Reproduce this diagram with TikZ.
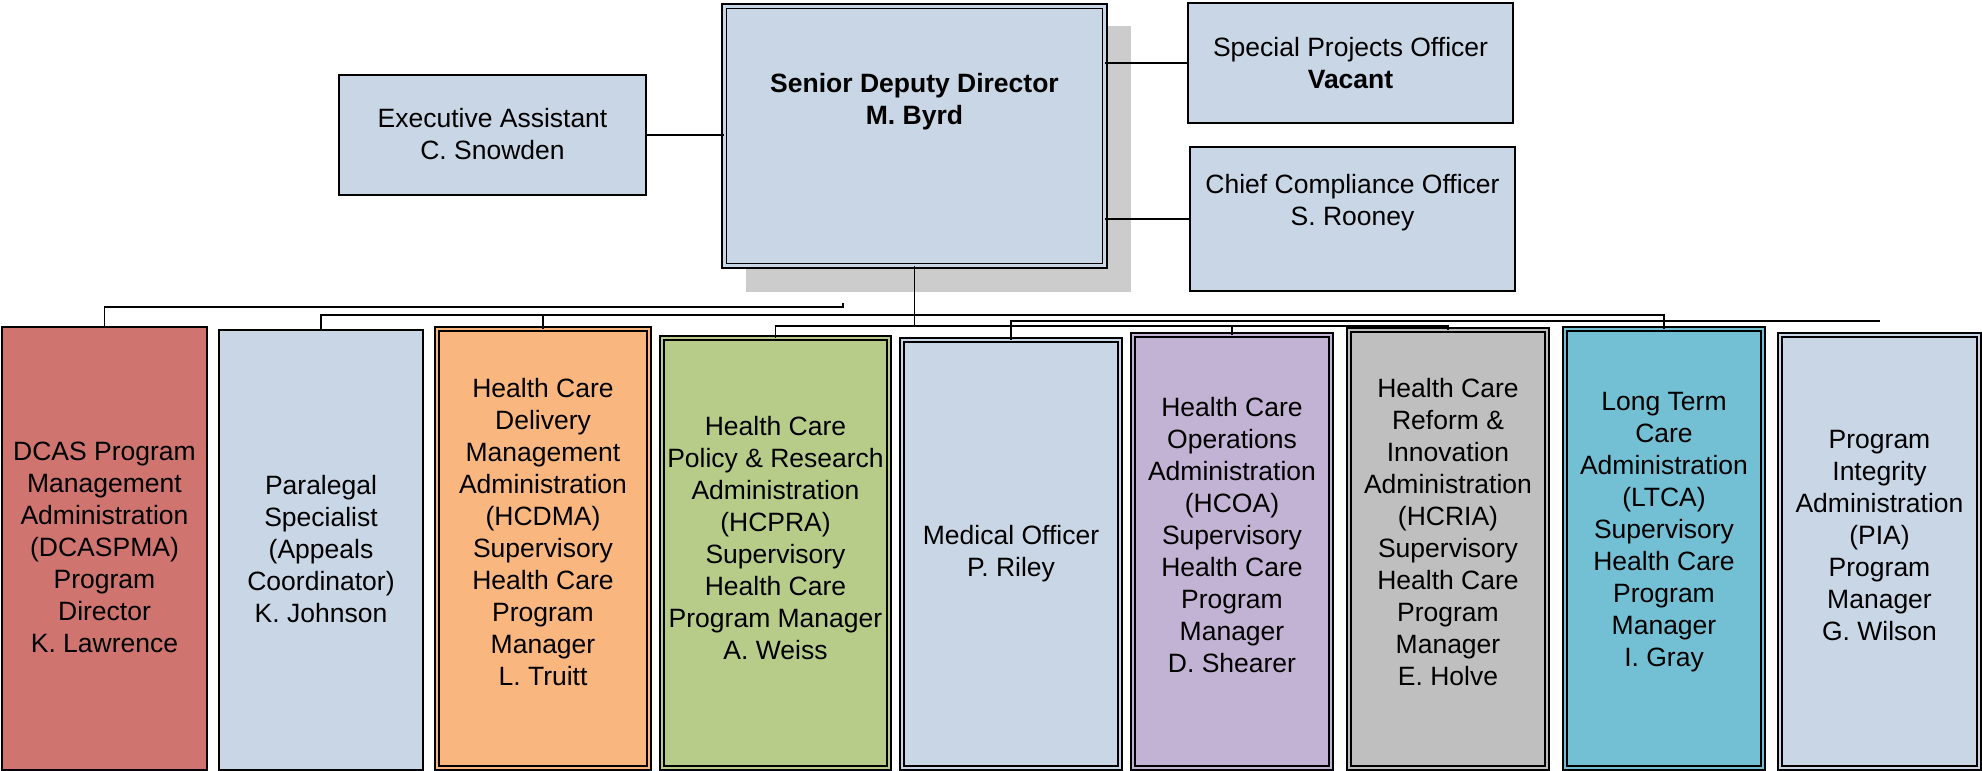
\documentclass[tikz,border=0pt]{standalone}
\usepackage{fontspec}
\setmainfont{Liberation Sans}
\definecolor{cLB}{HTML}{C9D6E5}
\definecolor{cRed}{HTML}{CF746E}
\definecolor{cOr}{HTML}{F9B67F}
\definecolor{cGr}{HTML}{B8CC8A}
\definecolor{cPu}{HTML}{C2B2D3}
\definecolor{cGy}{HTML}{BFBFBF}
\definecolor{cTe}{HTML}{73BFD4}
\definecolor{cSh}{HTML}{CCCCCC}
\begin{document}
\begin{tikzpicture}[x=1pt,y=-1pt,
  sbox/.style={rectangle, draw=black, fill=#1, line width=1.6pt, inner sep=0pt, outer sep=0pt},
  dbox/.style={rectangle, draw=black, fill=#1, double=#1, line width=1.4pt, double distance=2.6pt, inner sep=0pt, outer sep=0pt},
  txt/.style={align=center, font=\fontsize{26.5}{32}\selectfont, inner sep=0pt},
  conn/.style={draw=black, line width=1.5pt}]
\useasboundingbox (0,0) rectangle (1982,771);
\fill[white] (0,0) rectangle (1982,771);
% shadow of main box
\fill[cSh] (746,26) rectangle (1131,292);
% top boxes
\node[dbox=cLB, line width=1.7pt, double distance=2.8pt, minimum width=380.5pt, minimum height=259.5pt] (main) at (914.5,136) {};
\node[sbox=cLB, line width=1.8pt, minimum width=307pt, minimum height=120pt] (exec) at (492.5,135) {};
\node[sbox=cLB, line width=1.8pt, minimum width=325pt, minimum height=120pt] (sp) at (1350.5,63) {};
\node[sbox=cLB, line width=1.8pt, minimum width=325pt, minimum height=144pt] (cco) at (1352.5,219) {};
% bottom boxes
\node[sbox=cRed, minimum width=205pt, minimum height=443pt] (b1) at (104.5,548.5) {};
\node[sbox=cLB, minimum width=204pt, minimum height=440pt] (b2) at (321,550) {};
\node[dbox=cOr, minimum width=212pt, minimum height=439pt] (b3) at (543,548.5) {};
\node[dbox=cGr, minimum width=227pt, minimum height=430pt] (b4) at (775.5,553) {};
\node[dbox=cLB, minimum width=218pt, minimum height=428pt] (b5) at (1011,554) {};
\node[dbox=cPu, minimum width=198pt, minimum height=433pt] (b6) at (1232,551.5) {};
\node[dbox=cGy, minimum width=198pt, minimum height=438pt] (b7) at (1448,549) {};
\node[dbox=cTe, minimum width=198pt, minimum height=439pt] (b8) at (1664,548.5) {};
\node[dbox=cLB, minimum width=199pt, minimum height=433pt] (b9) at (1879.5,551.5) {};
% helper coordinates for connector levels
\coordinate (yA) at (0,307);
\coordinate (yB) at (0,315);
\coordinate (yC) at (0,321);
\coordinate (yD) at (0,326);
\coordinate (aEnd) at (843,307);
\coordinate (aTick) at (843,303);
% connectors
\draw[conn] (exec.east) -- (main.west |- exec.east);
\draw[conn] (main.east |- sp.west) -- (sp.west);
\draw[conn] (main.east |- cco.west) -- (cco.west);
\draw[conn] (b1.north) |- (aEnd) -- (aTick);
\draw[conn] (b2.north) |- (b8.north |- yB) -- (b8.north);
\draw[conn] (b3.north) -- (b3.north |- yB);
\draw[conn] (main.south) -- (main.south |- yD);
\draw[conn] (b4.north) |- (b7.north |- yD) -- (b7.north);
\draw[conn] (b6.north) -- (b6.north |- yD);
\draw[conn] (b5.north) |- (b9.north |- yC);
% texts
\node[txt] (tmain) at (914.5,102) {\bfseries Senior Deputy Director\\\bfseries M. Byrd};
\node[txt] (texec) at (492.5,134) {Executive Assistant\\C. Snowden};
\node[txt] (tsp) at (1350.5,63) {Special Projects Officer\\\bfseries Vacant};
\node[txt] (tcco) at (1352.5,203) {Chief Compliance Officer\\S. Rooney};
\node[txt] (t1) at (104.5,547.5) {DCAS Program\\Management\\Administration\\(DCASPMA)\\Program\\Director\\K. Lawrence};
\node[txt] (t2) at (321,549) {Paralegal\\Specialist\\(Appeals\\Coordinator)\\K. Johnson};
\node[txt] (t3) at (543,532) {Health Care\\Delivery\\Management\\Administration\\(HCDMA)\\Supervisory\\Health Care\\Program\\Manager\\L. Truitt};
\node[txt] (t4) at (775.5,538.5) {Health Care\\Policy \& Research\\Administration\\(HCPRA)\\Supervisory\\Health Care\\Program Manager\\A. Weiss};
\node[txt] (t5) at (1011,554) {Medical Officer\\P. Riley};
\node[txt] (t6) at (1232,535) {Health Care\\Operations\\Administration\\(HCOA)\\Supervisory\\Health Care\\Program\\Manager\\D. Shearer};
\node[txt] (t7) at (1448,532) {Health Care\\Reform \&\\Innovation\\Administration\\(HCRIA)\\Supervisory\\Health Care\\Program\\Manager\\E. Holve};
\node[txt] (t8) at (1664,532) {Long Term\\Care\\Administration\\(LTCA)\\Supervisory\\Health Care\\Program\\Manager\\I. Gray};
\node[txt] (t9) at (1879.5,535.5) {Program\\Integrity\\Administration\\(PIA)\\Program\\Manager\\G. Wilson};
\end{tikzpicture}
\end{document}
